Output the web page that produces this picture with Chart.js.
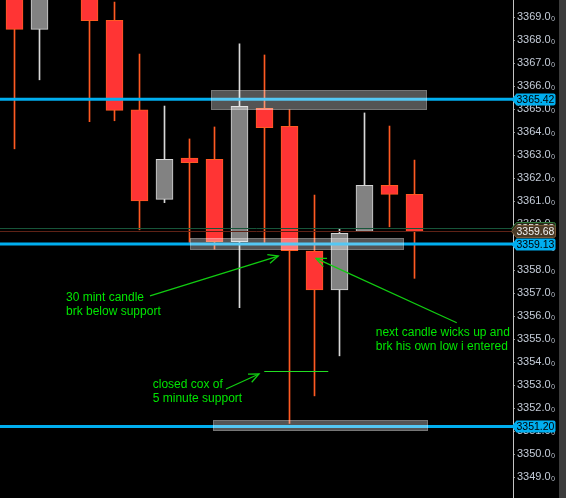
<!DOCTYPE html>
<html>
<head>
<meta charset="utf-8">
<script src="https://cdn.jsdelivr.net/npm/chart.js@4.4.1/dist/chart.umd.min.js"></script>
<style>
  html, body { margin: 0; padding: 0; background: #000; }
  #wrap { position: relative; width: 566px; height: 498px; }
</style>
</head>
<body>
<div id="wrap"><canvas id="c" width="566" height="498"></canvas></div>
<script>
// ---- data ----
const slots  = [0, 1, 2, 3, 4, 5, 6, 7, 8, 9, 10, 11, 12, 13, 14, 15, 16];
const openP  = [3370.60, 3368.46, 3371.50, 3370.80, 3368.86, 3364.96, 3361.07, 3362.87, 3362.81, 3359.23, 3365.03, 3364.25, 3358.83, 3357.14, 3359.68, 3361.68, 3361.29];
const highP  = [3371.00, 3371.00, 3372.30, 3371.50, 3369.65, 3367.39, 3365.13, 3363.70, 3364.22, 3367.83, 3367.35, 3364.96, 3361.26, 3359.78, 3364.83, 3364.26, 3362.78];
const lowP   = [3363.27, 3366.27, 3370.20, 3364.45, 3364.49, 3359.75, 3360.93, 3359.20, 3358.91, 3356.36, 3359.20, 3351.33, 3352.53, 3354.27, 3359.68, 3359.88, 3357.64];
const closeP = [3368.46, 3370.50, 3371.90, 3368.84, 3364.94, 3361.01, 3362.81, 3362.67, 3359.23, 3365.12, 3364.19, 3358.84, 3357.14, 3359.60, 3361.68, 3361.29, 3359.68];

const tickValues = [3349, 3350, 3351, 3352, 3353, 3354, 3355, 3356, 3357, 3358, 3359, 3360, 3361, 3362, 3363, 3364, 3365, 3366, 3367, 3368, 3369];
const tickLabels = ['3349.0₀','3350.0₀','3351.0₀','3352.0₀','3353.0₀','3354.0₀','3355.0₀','3356.0₀','3357.0₀','3358.0₀','3359.0₀','3360.0₀','3361.0₀','3362.0₀','3363.0₀','3364.0₀','3365.0₀','3366.0₀','3367.0₀','3368.0₀','3369.0₀'];

const levels      = [3365.42, 3359.13, 3351.20];
const levelLabels = ['3365.42', '3359.13', '3351.20'];

const zoneFrom = [7.86, 7.02, 7.94];
const zoneTo   = [16.50, 15.58, 16.54];
const zoneHigh = [3365.83, 3359.38, 3351.48];
const zoneLow  = [3364.94, 3358.88, 3350.99];

const bidPrice  = 3359.83, bidLabel  = '3359.83';
const lastPrice = 3359.68, lastLabel = '3359.68';

const noteText = [['30 mint candle', 'brk below support'],
                  ['next candle wicks up and', 'brk his own low i entered'],
                  ['closed cox of', '5 minute support']];
const noteX = [2.06, 14.45, 5.53];
const noteY = [3356.80, 3355.29, 3353.01];

const arrowFromX = [5.42, 17.69, 8.46];
const arrowFromY = [3356.88, 3355.71, 3352.83];
const arrowToX   = [10.55, 12.06, 9.78];
const arrowToY   = [3358.61, 3358.51, 3353.48];

const entryFrom = 9.99, entryTo = 12.55, entryPrice = 3353.61;

// ---- styles ----
const RED_FILL = '#ff3434', RED_EDGE = '#ff5a22';
const GRAY_FILL = '#828282', GRAY_EDGE = '#d4d4d4';
const isUp = i => closeP[i] >= openP[i];

const overlay = {
  id: 'overlay',
  beforeDraw(chart) {
    const ctx = chart.ctx;
    ctx.save();
    ctx.fillStyle = '#000';
    ctx.fillRect(0, 0, chart.width, chart.height);
    ctx.fillStyle = '#3c3c3c';
    ctx.fillRect(559, 0, chart.width - 559, chart.height);
    ctx.restore();
  },
  afterDatasetsDraw(chart) {
    const ctx = chart.ctx, a = chart.chartArea;
    const xs = chart.scales.x, ys = chart.scales.y;
    ctx.save();
    ctx.beginPath(); ctx.rect(a.left, a.top, a.right - a.left, a.bottom - a.top); ctx.clip();

    // thin bid/last lines
    ctx.lineWidth = 1;
    ctx.strokeStyle = '#17553a';
    let y = Math.round(ys.getPixelForValue(bidPrice)) + 0.5;
    ctx.beginPath(); ctx.moveTo(a.left, y); ctx.lineTo(a.right, y); ctx.stroke();
    ctx.strokeStyle = '#5e2216';
    y = Math.round(ys.getPixelForValue(lastPrice)) + 0.5;
    ctx.beginPath(); ctx.moveTo(a.left, y); ctx.lineTo(a.right, y); ctx.stroke();

    // blue levels
    ctx.strokeStyle = '#00aeef';
    ctx.lineWidth = 3;
    levels.forEach(v => {
      const yy = ys.getPixelForValue(v);
      ctx.beginPath(); ctx.moveTo(a.left, yy); ctx.lineTo(a.right, yy); ctx.stroke();
    });

    // zones
    zoneFrom.forEach((f, i) => {
      const x0 = Math.round(xs.getPixelForValue(f)), x1 = Math.round(xs.getPixelForValue(zoneTo[i]));
      const y0 = Math.round(ys.getPixelForValue(zoneHigh[i])), y1 = Math.round(ys.getPixelForValue(zoneLow[i]));
      ctx.fillStyle = 'rgba(255,255,255,0.33)';
      ctx.fillRect(x0, y0, x1 - x0, y1 - y0);
      ctx.strokeStyle = 'rgba(255,255,255,0.2)';
      ctx.lineWidth = 1;
      ctx.strokeRect(x0 + 0.5, y0 + 0.5, x1 - x0 - 1, y1 - y0 - 1);
    });

    // entry line
    ctx.strokeStyle = '#22dd22';
    ctx.lineWidth = 1;
    y = Math.round(ys.getPixelForValue(entryPrice)) + 0.5;
    ctx.beginPath();
    ctx.moveTo(xs.getPixelForValue(entryFrom), y);
    ctx.lineTo(xs.getPixelForValue(entryTo), y);
    ctx.stroke();

    // arrows
    ctx.strokeStyle = '#11cc11';
    ctx.lineWidth = 1.3;
    arrowFromX.forEach((fx, i) => {
      const x0 = xs.getPixelForValue(fx), y0 = ys.getPixelForValue(arrowFromY[i]);
      const x1 = xs.getPixelForValue(arrowToX[i]), y1 = ys.getPixelForValue(arrowToY[i]);
      const ang = Math.atan2(y1 - y0, x1 - x0);
      ctx.beginPath(); ctx.moveTo(x0, y0); ctx.lineTo(x1, y1); ctx.stroke();
      const L = 11, sp = 0.42;
      ctx.beginPath();
      ctx.moveTo(x1 - L * Math.cos(ang - sp), y1 - L * Math.sin(ang - sp));
      ctx.lineTo(x1, y1);
      ctx.lineTo(x1 - L * Math.cos(ang + sp), y1 - L * Math.sin(ang + sp));
      ctx.stroke();
    });

    // notes
    ctx.fillStyle = '#00e600';
    ctx.font = '12px "Liberation Sans", Arial, sans-serif';
    ctx.textAlign = 'left';
    ctx.textBaseline = 'middle';
    noteText.forEach((lines, i) => {
      const x = xs.getPixelForValue(noteX[i]), y0 = ys.getPixelForValue(noteY[i]);
      lines.forEach((t, k) => ctx.fillText(t, x, y0 + k * 14));
    });
    ctx.restore();
  },
  afterDraw(chart) {
    const ctx = chart.ctx, ys = chart.scales.y;
    const tag = (v, text, fill, edge, color) => {
      const yc = Math.round(ys.getPixelForValue(v)) + 0.5;
      const x0 = 511.5, x1 = 555.5, h = 6;
      ctx.beginPath();
      ctx.moveTo(x0, yc);
      ctx.lineTo(x0 + 5, yc - h);
      ctx.lineTo(x1 - 2, yc - h);
      ctx.quadraticCurveTo(x1, yc - h, x1, yc - h + 2);
      ctx.lineTo(x1, yc + h - 2);
      ctx.quadraticCurveTo(x1, yc + h, x1 - 2, yc + h);
      ctx.lineTo(x0 + 5, yc + h);
      ctx.closePath();
      ctx.fillStyle = fill; ctx.fill();
      if (edge) { ctx.strokeStyle = edge; ctx.lineWidth = 1; ctx.stroke(); }
      ctx.fillStyle = color;
      ctx.font = '10.5px "Liberation Sans", Arial, sans-serif';
      ctx.textAlign = 'left';
      ctx.textBaseline = 'middle';
      ctx.fillText(text, 516.5, yc + 0.5);
    };
    ctx.save();
    tag(bidPrice, bidLabel, '#2a2a1a', '#2f7a3a', '#f0f0f0');
    tag(lastPrice, lastLabel, '#4a3a26', '#7a5a3a', '#f0f0f0');
    levels.forEach((v, i) => tag(v, levelLabels[i], '#00aeef', null, '#000'));
    ctx.restore();
  }
};

new Chart(document.getElementById('c'), {
  type: 'bar',
  data: {
    datasets: [
      {
        label: 'wicks',
        order: 2,
        grouped: false,
        barThickness: 1,
        borderWidth: 0,
        data: slots.map((s, i) => ({ x: s, y: [lowP[i], highP[i]] })),
        backgroundColor: slots.map((s, i) => isUp(i) ? '#d8d8d8' : RED_EDGE)
      },
      {
        label: 'bodies',
        order: 1,
        grouped: false,
        barThickness: 17,
        borderWidth: 1,
        borderSkipped: false,
        data: slots.map((s, i) => ({ x: s, y: [openP[i], closeP[i]] })),
        backgroundColor: slots.map((s, i) => isUp(i) ? GRAY_FILL : RED_FILL),
        borderColor: slots.map((s, i) => isUp(i) ? GRAY_EDGE : RED_EDGE)
      }
    ]
  },
  options: {
    responsive: false,
    animation: false,
    devicePixelRatio: 1,
    layout: { padding: 0, autoPadding: false },
    plugins: { legend: { display: false }, tooltip: { enabled: false } },
    scales: {
      x: { type: 'linear', min: -0.58, max: 19.94, offset: false, display: false },
      y: {
        position: 'right',
        min: 3348.09,
        max: 3369.74,
        afterFit: s => { s.width = 53; s.paddingTop = 0; s.paddingBottom = 0; },
        afterBuildTicks: s => { s.ticks = tickValues.map(v => ({ value: v })); },
        border: { display: true, color: '#c4c4c4', width: 1 },
        grid: { display: true, drawOnChartArea: false, drawTicks: true, tickLength: 2, color: '#8a8a8a' },
        ticks: {
          padding: 2,
          color: '#c4ccd8',
          font: { family: '"Liberation Sans", Arial, sans-serif', size: 11 },
          callback: (v) => { const k = tickValues.indexOf(v); return k >= 0 ? tickLabels[k] : ''; }
        }
      }
    }
  },
  plugins: [overlay]
});
</script>
</body>
</html>
